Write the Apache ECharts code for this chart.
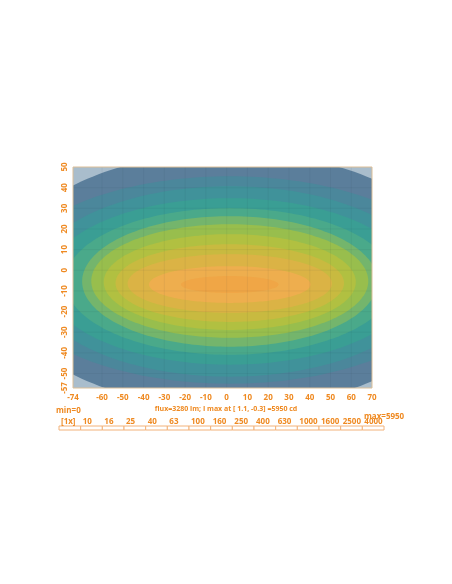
<!DOCTYPE html>
<html><head><meta charset="utf-8">
<script src="https://cdn.jsdelivr.net/npm/echarts@6/dist/echarts.min.js"></script>
<style>html,body{margin:0;padding:0;background:#fff}#c{width:452px;height:584px}</style>
</head><body><div id="c"></div>
<script>
// ---- data ----
const xTicks = [-74,-60,-50,-40,-30,-20,-10,0,10,20,30,40,50,60,70];
const yTicks = [-57,-50,-40,-30,-20,-10,0,10,20,30,40,50];
const contourLevels     = [25,40,63,100,160,250,400,630,1000,1600,2500,4000];
const contourHalfWidth  = [111.9,108.0,95.5,88.3,79.2,71.1,66.7,60.7,55.0,49.2,38.9,23.5];
const contourHalfHeight = [62.0,50.2,46.1,40.3,35.5,31.6,27.5,23.2,18.8,14.2,8.9,4.1];
const contourCenterY    = [-4.7,-4.7,-5.4,-5.4,-5.4,-5.4,-5.2,-5.7,-6.2,-6.4,-6.9,-6.9];
const contourCenterX    = [1.5,1.5,1.5,1.5,1.5,1.5,1.5,1.5,1.5,1.5,1.5,1.5];
const bandColors = ['#a9bdcc','#5b7e9b','#4b879b','#40929a','#3a9e94','#4aa98a','#74b56c',
                    '#98be4d','#b1c041','#c8ba40','#dbb345','#eeae4e','#f0a646'];
const legendLabels = ['[1x]','10','16','25','40','63','100','160','250','400','630','1000','1600','2500','4000'];
const fluxText = 'flux=3280 lm; I max at [ 1.1, -0.3] =5950 cd';
const minText = 'min=0';
const maxText = 'max=5950';

// ---- styling ----
const ORANGE = '#ef8a22';
const FONT = 'Open Sans';
const xMin = xTicks[0], xMax = xTicks[xTicks.length-1];
const yMin = yTicks[0], yMax = yTicks[yTicks.length-1];

function contourItem(params, api) {
  const i = params.dataIndex;
  if (i === 0) {
    const p0 = api.coord([xMin, yMax]), p1 = api.coord([xMax, yMin]);
    return {type:'rect', shape:{x:p0[0], y:p0[1], width:p1[0]-p0[0], height:p1[1]-p0[1]},
            style:{fill:bandColors[0]}};
  }
  const k = i - 1;
  const a = contourHalfWidth[k], b = contourHalfHeight[k];
  const cx = contourCenterX[k], cy = contourCenterY[k];
  const pts = [];
  const N = 200;
  for (let j = 0; j < N; j++) {
    const t = j / N * Math.PI * 2;
    pts.push(api.coord([cx + a * Math.cos(t), cy + b * Math.sin(t)]));
  }
  return {type:'polygon', shape:{points:pts}, style:{fill:bandColors[i]}};
}

const gridData = xTicks.slice(1,-1).map(v=>['x',v]).concat(yTicks.slice(1,-1).map(v=>['y',v]));
function gridItem(params, api) {
  const d = gridData[params.dataIndex];
  let p0, p1;
  if (d[0] === 'x') { p0 = api.coord([d[1], yMin]); p1 = api.coord([d[1], yMax]); }
  else { p0 = api.coord([xMin, d[1]]); p1 = api.coord([xMax, d[1]]); }
  return {type:'line', shape:{x1:p0[0], y1:p0[1], x2:p1[0], y2:p1[1]},
          style:{stroke:'rgba(40,50,70,0.06)', lineWidth:1}};
}

function legendItem(params, api) {
  const i = params.dataIndex;
  const p0 = api.coord([i, 1]), p1 = api.coord([i+1, 0]);
  return {type:'group', children:[
    {type:'rect', shape:{x:p0[0], y:p0[1], width:p1[0]-p0[0], height:p1[1]-p0[1]},
     style:{fill:'#fff', stroke:'#f2b27a', lineWidth:1}},
    {type:'text', x:p0[0]+2, y:p0[1]-0.5,
     style:{text:legendLabels[i], fill:ORANGE, font:'bold 8px "'+FONT+'"', textAlign:'left', textVerticalAlign:'bottom'}}
  ]};
}

const chart = echarts.init(document.getElementById('c'), null, {renderer:'canvas'});
chart.setOption({
  animation:false,
  backgroundColor:'#fff',
  grid:[
    {left:73, top:167, width:299, height:221, show:true, borderColor:'#dcbf98', borderWidth:1, backgroundColor:'transparent', z:10},
    {left:59, top:426, width:325, height:4, show:false}
  ],
  xAxis:[
    {type:'value', gridIndex:0, min:xMin, max:xMax,
     axisLine:{show:false}, axisTick:{show:false}, splitLine:{show:false},
     axisLabel:{customValues:xTicks, color:ORANGE, fontSize:8, fontWeight:'bold', fontFamily:FONT, margin:6}},
    {type:'value', gridIndex:1, min:0, max:legendLabels.length, show:false}
  ],
  yAxis:[
    {type:'value', gridIndex:0, min:yMin, max:yMax,
     axisLine:{show:false}, axisTick:{show:false}, splitLine:{show:false},
     axisLabel:{customValues:yTicks, rotate:90, color:ORANGE, fontSize:8, fontWeight:'bold', fontFamily:FONT, margin:4}},
    {type:'value', gridIndex:1, min:0, max:1, show:false}
  ],
  series:[
    {type:'custom', xAxisIndex:0, yAxisIndex:0, clip:true, renderItem:contourItem,
     data:bandColors.map((c,i)=>[i]), silent:true},
    {type:'custom', xAxisIndex:0, yAxisIndex:0, clip:true, renderItem:gridItem,
     data:gridData.map((d,i)=>[i]), silent:true, z:3},
    {type:'custom', xAxisIndex:1, yAxisIndex:1, renderItem:legendItem,
     data:legendLabels.map((l,i)=>[i]), silent:true}
  ],
  graphic:[
    {type:'text', left:56, top:407, style:{text:minText, fill:ORANGE, font:'bold 8px "'+FONT+'"'}},
    {type:'text', left:'center', top:405, style:{text:fluxText, fill:ORANGE, font:'bold 7px "'+FONT+'"'}},
    {type:'text', left:364, top:413, style:{text:maxText, fill:ORANGE, font:'bold 8px "'+FONT+'"'}}
  ]
});
</script></body></html>
